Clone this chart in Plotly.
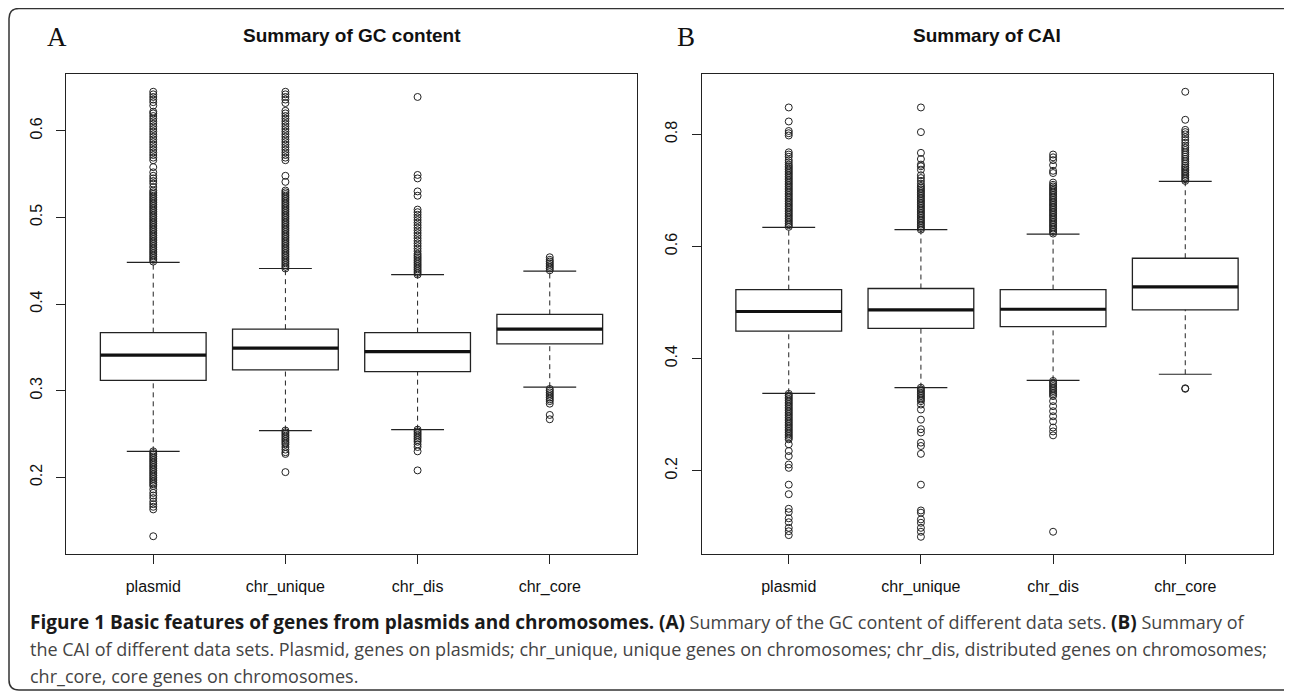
import plotly.graph_objects as go

# page is rendered with the browser's default 8px body margin,
# so the figure is sized to the remaining viewport
PAGE_W, PAGE_H = 1292, 693
OFF = 8
W, H = PAGE_W - OFF, PAGE_H - OFF

categories = ["plasmid", "chr_unique", "chr_dis", "chr_core"]
positions = [1, 2, 3, 4]

# ---- Panel A: GC content ----
gc_q1 = [0.312, 0.324, 0.322, 0.354]
gc_median = [0.341, 0.349, 0.345, 0.371]
gc_q3 = [0.367, 0.371, 0.367, 0.388]
gc_lower_whisker = [0.230, 0.254, 0.255, 0.304]
gc_upper_whisker = [0.448, 0.441, 0.434, 0.438]

gc_out_plasmid = [0.449, 0.451, 0.453, 0.455, 0.457, 0.459, 0.461, 0.463, 0.465, 0.467, 0.469,
                  0.471, 0.473, 0.475, 0.477, 0.479, 0.481, 0.483, 0.485, 0.487, 0.489, 0.491,
                  0.493, 0.495, 0.497, 0.499, 0.501, 0.503, 0.505, 0.507, 0.509, 0.511, 0.513,
                  0.515, 0.517, 0.519, 0.521, 0.523, 0.525, 0.527, 0.529, 0.531, 0.535, 0.539,
                  0.542, 0.545, 0.548, 0.552, 0.558, 0.566, 0.569, 0.572, 0.575, 0.578, 0.581,
                  0.584, 0.587, 0.590, 0.593, 0.596, 0.599, 0.602, 0.605, 0.608, 0.611, 0.614,
                  0.617, 0.620, 0.622, 0.629, 0.633, 0.636, 0.639, 0.642, 0.645,
                  0.230, 0.228, 0.226, 0.224, 0.222, 0.220, 0.218, 0.216, 0.214, 0.212, 0.210,
                  0.208, 0.206, 0.204, 0.202, 0.200, 0.198, 0.196, 0.194, 0.192, 0.190, 0.186,
                  0.182, 0.179, 0.176, 0.172, 0.169, 0.166, 0.163, 0.132]
gc_out_chr_unique = [0.441, 0.443, 0.445, 0.447, 0.449, 0.451, 0.453, 0.455, 0.457, 0.459, 0.461,
                     0.463, 0.465, 0.467, 0.469, 0.471, 0.473, 0.475, 0.477, 0.479, 0.481, 0.483,
                     0.485, 0.487, 0.489, 0.491, 0.493, 0.495, 0.497, 0.499, 0.501, 0.503, 0.505,
                     0.507, 0.509, 0.511, 0.513, 0.515, 0.517, 0.519, 0.521, 0.523, 0.525, 0.527,
                     0.529, 0.531, 0.541, 0.548, 0.566, 0.569, 0.572, 0.575, 0.578, 0.581, 0.584,
                     0.587, 0.590, 0.593, 0.596, 0.599, 0.602, 0.605, 0.608, 0.611, 0.614, 0.617,
                     0.620, 0.623, 0.632, 0.636, 0.639, 0.642, 0.645,
                     0.254, 0.252, 0.250, 0.248, 0.246, 0.244, 0.242, 0.240, 0.238, 0.235, 0.232,
                     0.229, 0.227, 0.206]
gc_out_chr_dis = [0.434, 0.436, 0.438, 0.440, 0.442, 0.444, 0.446, 0.448, 0.450, 0.452, 0.454,
                  0.456, 0.458, 0.461, 0.464, 0.467, 0.470, 0.473, 0.476, 0.479, 0.482, 0.485,
                  0.488, 0.491, 0.494, 0.497, 0.500, 0.503, 0.506, 0.509, 0.525, 0.530, 0.545,
                  0.549, 0.639,
                  0.255, 0.253, 0.251, 0.249, 0.247, 0.245, 0.243, 0.241, 0.238, 0.235, 0.230,
                  0.208]
gc_out_chr_core = [0.439, 0.441, 0.443, 0.445, 0.447, 0.449, 0.451, 0.454,
                   0.302, 0.300, 0.298, 0.296, 0.294, 0.292, 0.290, 0.288, 0.285, 0.272, 0.267]
gc_outliers = [gc_out_plasmid, gc_out_chr_unique, gc_out_chr_dis, gc_out_chr_core]

# ---- Panel B: CAI ----
cai_q1 = [0.449, 0.454, 0.457, 0.487]
cai_median = [0.484, 0.487, 0.488, 0.528]
cai_q3 = [0.523, 0.525, 0.523, 0.579]
cai_lower_whisker = [0.338, 0.348, 0.361, 0.372]
cai_upper_whisker = [0.634, 0.630, 0.622, 0.716]

cai_out_plasmid = [0.635, 0.638, 0.641, 0.644, 0.647, 0.650, 0.653, 0.656, 0.659, 0.662, 0.665,
                   0.668, 0.671, 0.674, 0.677, 0.680, 0.683, 0.686, 0.689, 0.692, 0.695, 0.698,
                   0.701, 0.704, 0.707, 0.710, 0.713, 0.716, 0.719, 0.722, 0.725, 0.728, 0.731,
                   0.734, 0.737, 0.740, 0.743, 0.746, 0.750, 0.754, 0.760, 0.764, 0.768, 0.798,
                   0.802, 0.806, 0.823, 0.848,
                   0.337, 0.334, 0.331, 0.328, 0.325, 0.322, 0.319, 0.316, 0.313, 0.310, 0.307,
                   0.304, 0.301, 0.298, 0.295, 0.292, 0.289, 0.286, 0.283, 0.280, 0.277, 0.274,
                   0.271, 0.268, 0.265, 0.262, 0.259, 0.256, 0.247, 0.235, 0.226, 0.211, 0.205,
                   0.175, 0.158, 0.132, 0.126, 0.115, 0.108, 0.098, 0.092, 0.085]
cai_out_chr_unique = [0.630, 0.633, 0.636, 0.639, 0.642, 0.645, 0.648, 0.651, 0.654, 0.657, 0.660,
                      0.663, 0.666, 0.669, 0.672, 0.675, 0.678, 0.681, 0.684, 0.687, 0.690, 0.693,
                      0.696, 0.699, 0.702, 0.705, 0.708, 0.712, 0.717, 0.722, 0.727, 0.737, 0.743,
                      0.746, 0.756, 0.767, 0.804, 0.848,
                      0.348, 0.345, 0.342, 0.339, 0.336, 0.333, 0.330, 0.327, 0.324, 0.318, 0.309,
                      0.291, 0.274, 0.268, 0.250, 0.244, 0.230, 0.175, 0.129, 0.125, 0.113, 0.107,
                      0.098, 0.091, 0.082]
cai_out_chr_dis = [0.623, 0.626, 0.629, 0.632, 0.635, 0.638, 0.641, 0.644, 0.647, 0.650, 0.653,
                   0.656, 0.659, 0.662, 0.665, 0.668, 0.671, 0.674, 0.677, 0.680, 0.683, 0.686,
                   0.689, 0.692, 0.695, 0.698, 0.701, 0.704, 0.707, 0.710, 0.714, 0.731, 0.735,
                   0.745, 0.754, 0.759, 0.764,
                   0.360, 0.357, 0.354, 0.351, 0.348, 0.345, 0.342, 0.339, 0.336, 0.333, 0.324,
                   0.315, 0.306, 0.297, 0.288, 0.277, 0.270, 0.263, 0.091]
cai_out_chr_core = [0.717, 0.720, 0.723, 0.726, 0.729, 0.732, 0.735, 0.738, 0.741, 0.744, 0.748,
                    0.752, 0.756, 0.760, 0.764, 0.768, 0.772, 0.776, 0.780, 0.785, 0.790, 0.795,
                    0.800, 0.804, 0.808, 0.826, 0.876,
                    0.346, 0.347]
cai_outliers = [cai_out_plasmid, cai_out_chr_unique, cai_out_chr_dis, cai_out_chr_core]

gc_yticks = [0.2, 0.3, 0.4, 0.5, 0.6]
cai_yticks = [0.2, 0.4, 0.6, 0.8]

titles = ["Summary of GC content", "Summary of CAI"]
panel_letters = ["A", "B"]

BOLD = "<span style='color:#1a1a1a;font-size:19px'><b>%s</b></span>"
caption_lines = [
    BOLD % "Figure 1 Basic features of genes from plasmids and chromosomes." + " "
    + BOLD % "(A)" + " Summary of the GC content of different data sets. "
    + BOLD % "(B)" + " Summary of",
    "the CAI of different data sets. Plasmid, genes on plasmids; chr_unique, unique genes on chromosomes; chr_dis, distributed genes on chromosomes;",
    "chr_core, core genes on chromosomes.",
]

# ---------------------------------------------------------------
INK = "#222222"
BOX_W = 0.8
CAP_W = 0.4


def px_x(p):
    return (p - OFF) / W


def px_y(p):
    return (PAGE_H - p) / H


fig = go.Figure()


def add_panel(xa, ya, q1, med, q3, lw, uw, outliers):
    # dashed whiskers
    wx, wy = [], []
    for x, a, b, c, d in zip(positions, lw, q1, q3, uw):
        wx += [x, x, None, x, x, None]
        wy += [a, b, None, c, d, None]
    fig.add_trace(go.Scatter(x=wx, y=wy, mode="lines", xaxis=xa, yaxis=ya,
                             line=dict(color=INK, width=1, dash="5px,4px"),
                             hoverinfo="skip", showlegend=False))
    # whisker caps
    cx, cy = [], []
    for x, a, d in zip(positions, lw, uw):
        cx += [x - CAP_W / 2, x + CAP_W / 2, None, x - CAP_W / 2, x + CAP_W / 2, None]
        cy += [a, a, None, d, d, None]
    fig.add_trace(go.Scatter(x=cx, y=cy, mode="lines", xaxis=xa, yaxis=ya,
                             line=dict(color=INK, width=1.2),
                             hoverinfo="skip", showlegend=False))
    # boxes
    fig.add_trace(go.Box(x=positions, q1=q1, median=med, q3=q3,
                         lowerfence=q1, upperfence=q3, width=BOX_W,
                         whiskerwidth=0, boxpoints=False,
                         fillcolor="white", line=dict(color=INK, width=1.3),
                         xaxis=xa, yaxis=ya, hoverinfo="skip", showlegend=False))
    # thick medians
    mx, my = [], []
    for x, m in zip(positions, med):
        mx += [x - BOX_W / 2, x + BOX_W / 2, None]
        my += [m, m, None]
    fig.add_trace(go.Scatter(x=mx, y=my, mode="lines", xaxis=xa, yaxis=ya,
                             line=dict(color="#111111", width=3.2),
                             hoverinfo="skip", showlegend=False))
    # outliers
    for x, vals in zip(positions, outliers):
        fig.add_trace(go.Scatter(x=[x] * len(vals), y=vals, mode="markers",
                                 xaxis=xa, yaxis=ya,
                                 marker=dict(symbol="circle-open", size=7,
                                             color=INK, line=dict(width=1, color=INK)),
                                 hoverinfo="skip", showlegend=False))


add_panel("x", "y", gc_q1, gc_median, gc_q3, gc_lower_whisker, gc_upper_whisker, gc_outliers)
add_panel("x2", "y2", cai_q1, cai_median, cai_q3, cai_lower_whisker, cai_upper_whisker, cai_outliers)

TICKFONT = dict(family="Liberation Sans, Arial, sans-serif", size=16, color="#111111")

x_common = dict(range=[0.34, 4.66], tickmode="array", tickvals=positions, ticktext=categories,
                ticks="outside", ticklen=9, tickwidth=1, tickcolor=INK,
                showline=True, linecolor=INK, linewidth=1, mirror=True,
                showgrid=False, zeroline=False, tickfont=TICKFONT, ticklabelstandoff=9)
y_common = dict(ticks="outside", ticklen=9, tickwidth=1, tickcolor=INK,
                showline=True, linecolor=INK, linewidth=1, mirror=True,
                showgrid=False, zeroline=False, tickfont=TICKFONT, tickangle=-90,
                tickformat=".1f", ticklabelstandoff=8)

ydom = [px_y(554), px_y(74)]
dom1 = [px_x(66), px_x(637)]
dom2 = [px_x(701.5), px_x(1272.5)]

fig.update_layout(
    width=W, height=H, autosize=False,
    margin=dict(l=0, r=0, t=0, b=0),
    paper_bgcolor="white", plot_bgcolor="white",
    showlegend=False,
    xaxis=dict(domain=dom1, anchor="y", **x_common),
    yaxis=dict(domain=ydom, anchor="x", range=[0.1115, 0.6655],
               tickvals=gc_yticks, **y_common),
    xaxis2=dict(domain=dom2, anchor="y2", **x_common),
    yaxis2=dict(domain=ydom, anchor="x2", range=[0.0513, 0.9077],
                tickvals=cai_yticks, **y_common),
)

annotations = []
for dom, t in zip([dom1, dom2], titles):
    annotations.append(dict(text="<b>%s</b>" % t, x=(dom[0] + dom[1]) / 2, y=px_y(35),
                            xref="paper", yref="paper", xanchor="center", yanchor="middle",
                            showarrow=False,
                            font=dict(family="Liberation Sans, Arial, sans-serif", size=19,
                                      color="#111111")))
for cx, letter in zip([57, 686], panel_letters):
    annotations.append(dict(text=letter, x=px_x(cx), y=px_y(37.5), xref="paper", yref="paper",
                            xanchor="center", yanchor="middle", showarrow=False,
                            font=dict(family="Liberation Serif, Times New Roman, serif",
                                      size=27, color="#111111")))
for cy, line in zip([622, 649, 676], caption_lines):
    annotations.append(dict(text=line, x=px_x(28), y=px_y(cy), xref="paper", yref="paper",
                            xanchor="left", yanchor="middle", showarrow=False, align="left",
                            font=dict(family="Open Sans, sans-serif", size=18, color="#444444")))
fig.update_layout(annotations=annotations)

# rounded frame around the figure
r = 10
x0, y0, x1, y1 = 9, 8.5, 1294, 690
path = ("M {a},{b} Q {c},{d} {e},{f} L {g},{d} Q {h},{d} {h},{b} L {h},{i} "
        "Q {h},{j} {g},{j} L {e},{j} Q {c},{j} {c},{i} Z").format(
    a=px_x(x0), b=px_y(y0 + r), c=px_x(x0), d=px_y(y0), e=px_x(x0 + r), f=px_y(y0),
    g=px_x(x1 - r), h=px_x(x1), i=px_y(y1 - r), j=px_y(y1))
fig.add_shape(type="path", path=path, xref="paper", yref="paper",
              line=dict(color="#333333", width=1.5), layer="below")

fig.write_html("out.html")
